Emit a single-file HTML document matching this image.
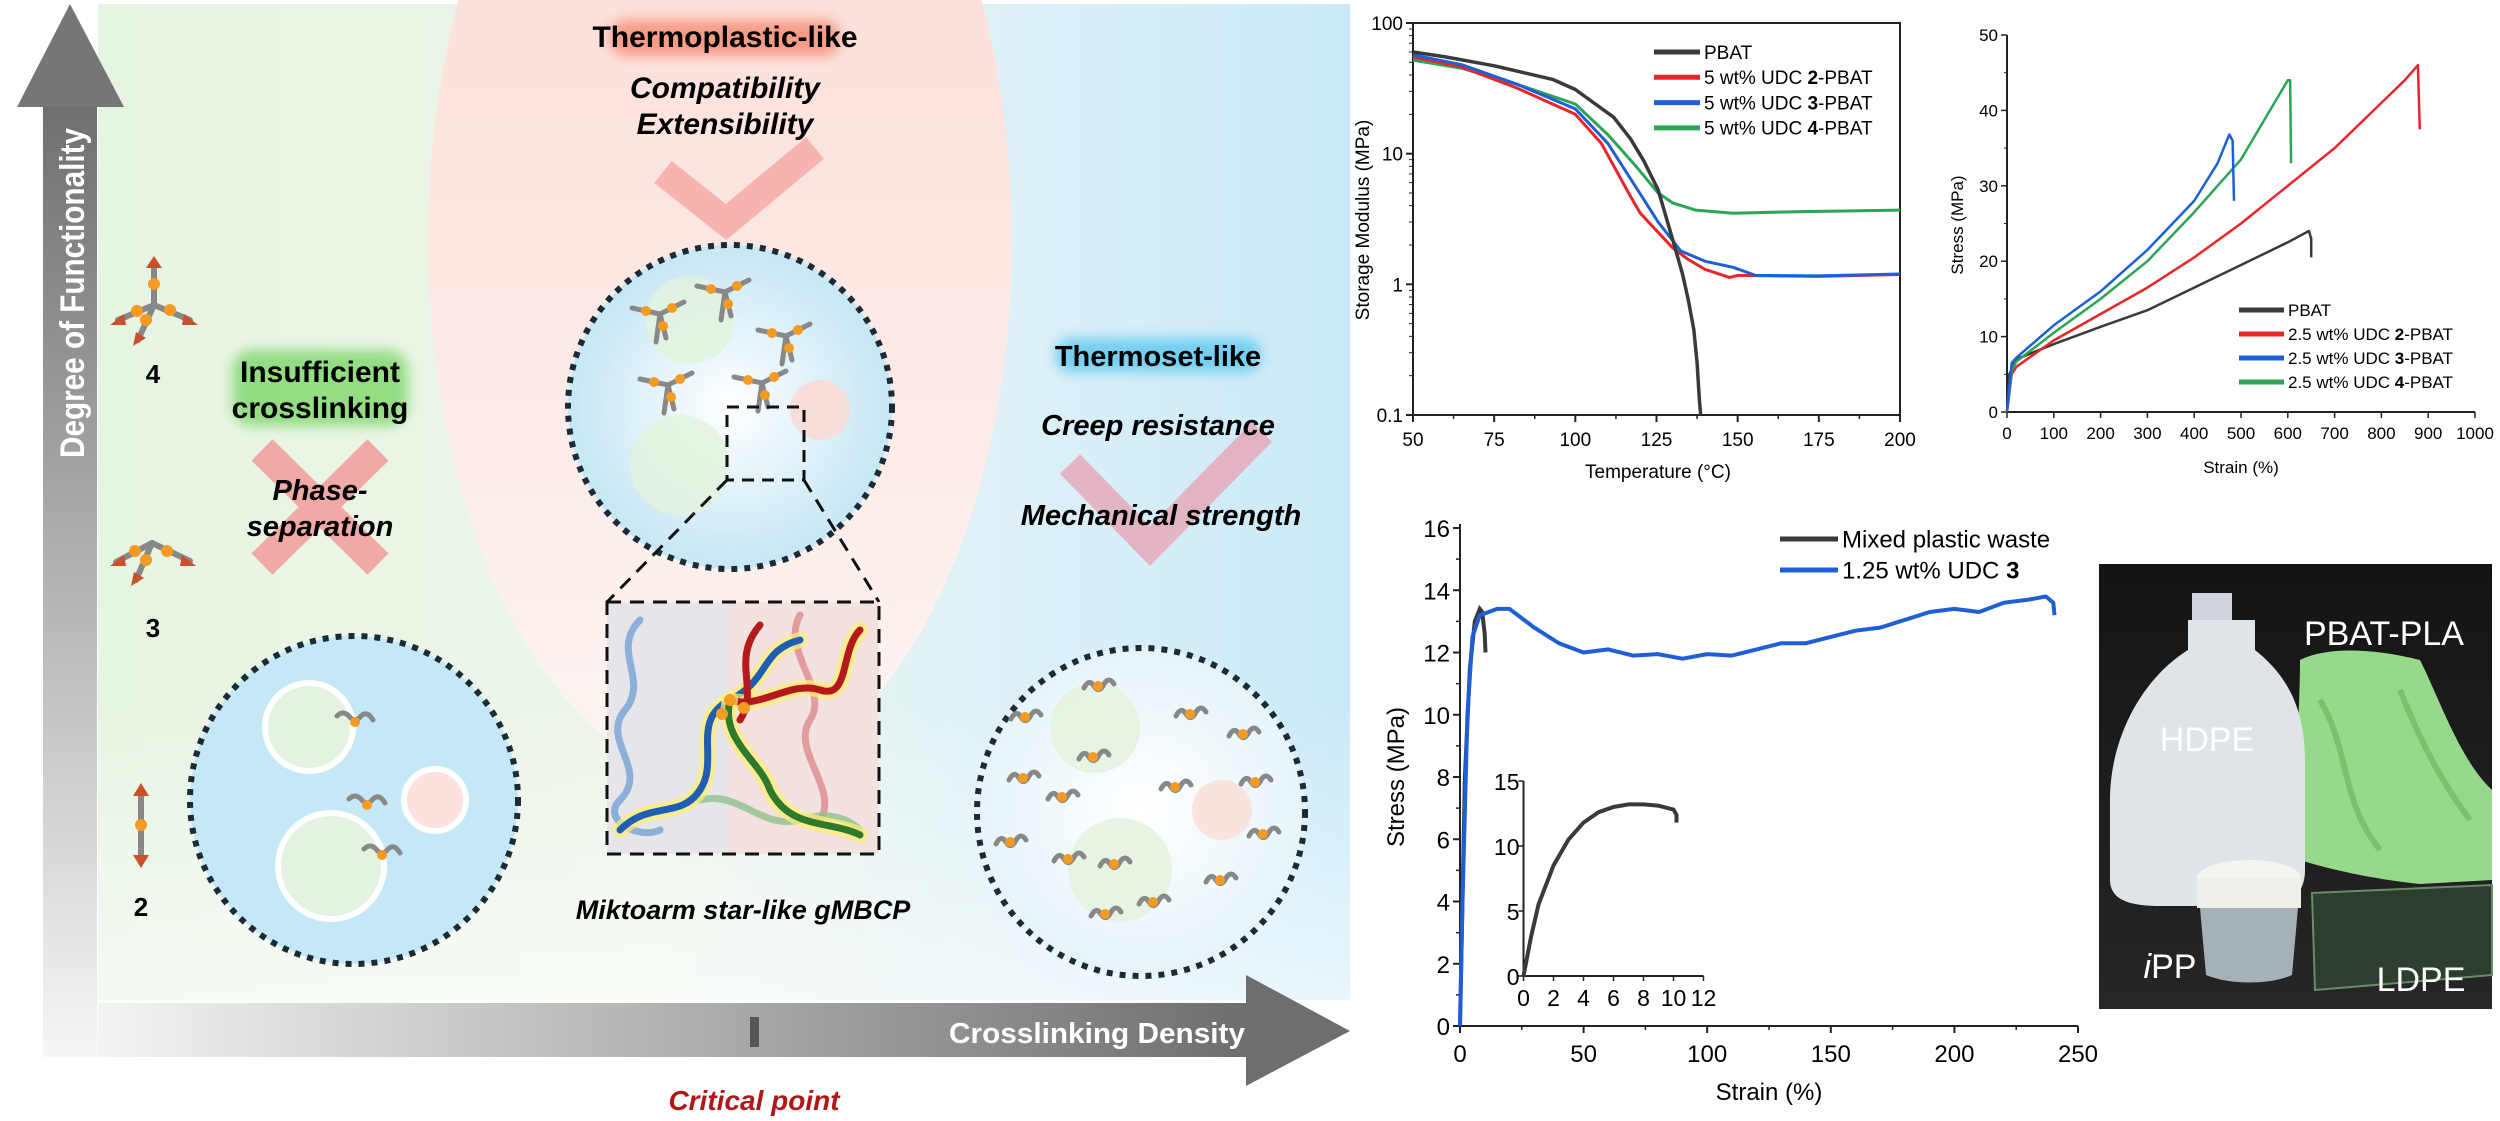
<!DOCTYPE html>
<html><head><meta charset="utf-8"><style>
html,body{margin:0;padding:0;background:#fff;}
svg{display:block;font-family:"Liberation Sans",sans-serif;}
</style></head><body>
<svg id="fig" width="2500" height="1121" viewBox="0 0 2500 1121" xmlns="http://www.w3.org/2000/svg">
<defs>
<linearGradient id="bgL" x1="0" x2="1" y1="0" y2="0"><stop offset="0" stop-color="#e6f4e2"/><stop offset="0.45" stop-color="#eef6ea"/><stop offset="0.75" stop-color="#dcf0f8"/><stop offset="1" stop-color="#c9e9f7"/></linearGradient>
<linearGradient id="bgB" x1="0" x2="0" y1="0" y2="1"><stop offset="0" stop-color="#ffffff" stop-opacity="0"/><stop offset="1" stop-color="#ffffff" stop-opacity="0.6"/></linearGradient>
<linearGradient id="pinkG" x1="0" x2="0" y1="0" y2="1"><stop offset="0" stop-color="#fbd9d3"/><stop offset="0.6" stop-color="#fce9e5"/><stop offset="1" stop-color="#fdf6f3"/></linearGradient>
<linearGradient id="vArrow" x1="0" x2="0" y1="0" y2="1"><stop offset="0" stop-color="#707070"/><stop offset="1" stop-color="#f6f6f6"/></linearGradient>
<linearGradient id="hArrow" x1="0" x2="1" y1="0" y2="0"><stop offset="0" stop-color="#f4f4f4"/><stop offset="1" stop-color="#6e6e6e"/></linearGradient>
<radialGradient id="midC" cx="0.5" cy="0.5" r="0.5"><stop offset="0" stop-color="#ffffff"/><stop offset="1" stop-color="#c6e7f5"/></radialGradient>
<radialGradient id="rightC" cx="0.5" cy="0.5" r="0.5"><stop offset="0" stop-color="#ffffff"/><stop offset="1" stop-color="#e6f4fa"/></radialGradient>
<linearGradient id="photoBg" x1="0" x2="0" y1="0" y2="1"><stop offset="0" stop-color="#141414"/><stop offset="1" stop-color="#262626"/></linearGradient>
<filter id="blur6" x="-30%" y="-60%" width="160%" height="220%"><feGaussianBlur stdDeviation="6"/></filter>
<filter id="blur3" x="-30%" y="-30%" width="160%" height="160%"><feGaussianBlur stdDeviation="3"/></filter>
</defs>

<g>
<rect x="98" y="4" width="1252" height="996" fill="url(#bgL)"/>
<ellipse cx="720" cy="240" rx="292" ry="540" fill="url(#pinkG)"/>
<rect x="98" y="700" width="1252" height="300" fill="url(#bgB)"/>

<g>
<polygon points="43,107 97,107 97,1057 43,1057" fill="url(#vArrow)"/>
<polygon points="17,107 124,107 70,4" fill="#767676"/>
<text transform="translate(84,293) rotate(-90)" text-anchor="middle" font-size="34" font-weight="bold" fill="#fff" textLength="330" lengthAdjust="spacingAndGlyphs">Degree of Functionality</text>
</g>
<g>
<polygon points="98,1003 1246,1003 1246,1057 98,1057" fill="url(#hArrow)"/>
<polygon points="1246,975 1246,1086 1350,1031" fill="#6e6e6e"/>
<text x="1097" y="1043" text-anchor="middle" font-size="29" font-weight="bold" fill="#fff" textLength="296" lengthAdjust="spacingAndGlyphs">Crosslinking Density</text>
<rect x="750" y="1017" width="9" height="30" fill="#555"/>
</g>
<text x="754" y="1110" text-anchor="middle" font-size="28" font-weight="bold" font-style="italic" fill="#b01818">Critical point</text>

<g stroke-linecap="round">
<g stroke="#888" stroke-width="6"><line x1="154" y1="305" x2="154" y2="262"/><line x1="154" y1="305" x2="118" y2="320"/><line x1="154" y1="305" x2="190" y2="320"/><line x1="154" y1="305" x2="138" y2="340"/></g>
<polygon points="154,256 146,268 162,268" fill="#c8502a"/><polygon points="110,325 124,314 126,325" fill="#c8502a"/><polygon points="198,325 184,314 182,325" fill="#c8502a"/><polygon points="133,346 136,332 146,338" fill="#c8502a"/>
<circle cx="154" cy="284" r="6" fill="#f59a23"/><circle cx="137" cy="311" r="6" fill="#f59a23"/><circle cx="170" cy="310" r="6" fill="#f59a23"/><circle cx="146" cy="320" r="6" fill="#f59a23"/>
</g>
<text x="153" y="383" text-anchor="middle" font-size="26" font-weight="bold">4</text>
<g stroke-linecap="round">
<g stroke="#888" stroke-width="6"><line x1="152" y1="543" x2="116" y2="562"/><line x1="152" y1="543" x2="190" y2="561"/><line x1="152" y1="543" x2="136" y2="580"/></g>
<polygon points="110,566 124,555 126,566" fill="#c8502a"/><polygon points="196,566 182,555 180,566" fill="#c8502a"/><polygon points="131,586 134,572 144,578" fill="#c8502a"/>
<circle cx="135" cy="551" r="6" fill="#f59a23"/><circle cx="167" cy="551" r="6" fill="#f59a23"/><circle cx="146" cy="560" r="6" fill="#f59a23"/>
</g>
<text x="153" y="637" text-anchor="middle" font-size="26" font-weight="bold">3</text>
<g>
<line x1="141" y1="795" x2="141" y2="858" stroke="#888" stroke-width="6"/>
<polygon points="141,783 133,796 149,796" fill="#c8502a"/><polygon points="141,868 133,855 149,855" fill="#c8502a"/>
<circle cx="141" cy="825" r="6" fill="#f59a23"/>
</g>
<text x="141" y="916" text-anchor="middle" font-size="26" font-weight="bold">2</text>

<rect x="232" y="350" width="176" height="76" rx="20" fill="#6fd35a" opacity="0.7" filter="url(#blur6)"/>
<text x="320" y="382" text-anchor="middle" font-size="30" font-weight="bold"><tspan x="320">Insufficient</tspan><tspan x="320" dy="36">crosslinking</tspan></text>
<g stroke="#f0a9a4" stroke-width="30"><line x1="262" y1="450" x2="378" y2="564"/><line x1="378" y1="450" x2="262" y2="564"/></g>
<text x="320" y="500" text-anchor="middle" font-size="29" font-weight="bold" font-style="italic"><tspan x="320">Phase-</tspan><tspan x="320" dy="36">separation</tspan></text>

<g>
<circle cx="354" cy="800" r="164" fill="#c4e8f6" stroke="#1c2a38" stroke-width="6" stroke-dasharray="6,7"/>
<circle cx="309" cy="727" r="44" fill="#e4f3e1" stroke="#fff" stroke-width="6"/>
<circle cx="331" cy="866" r="53" fill="#e4f3e1" stroke="#fff" stroke-width="6"/>
<circle cx="435" cy="800" r="31" fill="#fbe2de" stroke="#fff" stroke-width="6"/>
</g>

<rect x="610" y="20" width="230" height="36" rx="16" fill="#f58a70" opacity="0.8" filter="url(#blur6)"/>
<text x="725" y="47" text-anchor="middle" font-size="30" font-weight="bold">Thermoplastic-like</text>
<text x="725" y="98" text-anchor="middle" font-size="30" font-weight="bold" font-style="italic">Compatibility</text>
<text x="725" y="134" text-anchor="middle" font-size="30" font-weight="bold" font-style="italic">Extensibility</text>
<polyline points="663,172 726,222 815,148" fill="none" stroke="#f6aaa6" stroke-width="28" opacity="0.85"/>

<g>
<circle cx="730" cy="407" r="162" fill="url(#midC)" stroke="#1c2a38" stroke-width="6" stroke-dasharray="6,7"/>
<circle cx="690" cy="320" r="44" fill="#e4f2dc" opacity="0.8"/>
<circle cx="680" cy="465" r="50" fill="#e4f2dc" opacity="0.8"/>
<circle cx="820" cy="410" r="30" fill="#f9dcd6" opacity="0.9"/>
<g id="stars" stroke="#888" stroke-width="5" stroke-linecap="round" fill="none"></g>
<rect x="727" y="407" width="77" height="73" fill="none" stroke="#111" stroke-width="3" stroke-dasharray="12,8"/>
</g>
<line x1="727" y1="480" x2="607" y2="602" stroke="#111" stroke-width="3" stroke-dasharray="14,9"/>
<line x1="804" y1="480" x2="879" y2="602" stroke="#111" stroke-width="3" stroke-dasharray="14,9"/>
<g>
<rect x="607" y="602" width="272" height="252" fill="#f3e2e0" stroke="#111" stroke-width="3" stroke-dasharray="14,9"/>
<rect x="609" y="604" width="120" height="248" fill="#dde8f0" opacity="0.6"/>
<g fill="none" stroke-linecap="round">
<path d="M640,620 C610,650 650,680 625,710 C600,740 650,770 620,800 C600,820 640,840 660,830" stroke="#8db0d8" stroke-width="7"/>
<path d="M800,615 C780,650 830,690 810,720 C790,750 840,790 820,820" stroke="#d88080" stroke-width="7" opacity="0.7"/>
<path d="M700,800 C740,790 760,830 800,820 C830,810 850,820 860,830" stroke="#90c090" stroke-width="7" opacity="0.8"/>
<path d="M620,830 C650,800 680,820 700,790 C720,760 690,720 730,700 C770,680 760,650 800,640" stroke="#ffef70" stroke-width="16" opacity="0.7"/>
<path d="M620,830 C650,800 680,820 700,790 C720,760 690,720 730,700 C770,680 760,650 800,640" stroke="#1e5fb3" stroke-width="7"/>
<path d="M730,700 C760,710 790,680 820,690 C850,700 840,650 860,630" stroke="#ffef70" stroke-width="16" opacity="0.7"/>
<path d="M730,700 C760,710 790,680 820,690 C850,700 840,650 860,630" stroke="#b5191c" stroke-width="7"/>
<path d="M730,700 C720,740 760,760 770,790 C790,830 830,820 860,835" stroke="#ffef70" stroke-width="16" opacity="0.7"/>
<path d="M730,700 C720,740 760,760 770,790 C790,830 830,820 860,835" stroke="#2e7a2a" stroke-width="7"/>
<path d="M760,625 C730,660 760,690 740,720" stroke="#b5191c" stroke-width="7"/>
</g>
<circle cx="730" cy="700" r="6" fill="#f59a23"/><circle cx="722" cy="714" r="6" fill="#f59a23"/><circle cx="744" cy="708" r="6" fill="#f59a23"/>
</g>
<text x="743" y="919" text-anchor="middle" font-size="27" font-weight="bold" font-style="italic">Miktoarm star-like gMBCP</text>

<rect x="1055" y="338" width="206" height="34" rx="16" fill="#5cc8f0" opacity="0.8" filter="url(#blur6)"/>
<text x="1158" y="366" text-anchor="middle" font-size="29" font-weight="bold">Thermoset-like</text>
<polyline points="1070,464 1150,546 1262,432" fill="none" stroke="#e6a6b4" stroke-width="28" opacity="0.8"/>
<text x="1158" y="435" text-anchor="middle" font-size="29" font-weight="bold" font-style="italic">Creep resistance</text>
<text x="1161" y="525" text-anchor="middle" font-size="29" font-weight="bold" font-style="italic">Mechanical strength</text>
<g>
<circle cx="1141" cy="812" r="164" fill="url(#rightC)" stroke="#1c2a38" stroke-width="6" stroke-dasharray="6,7"/>
<circle cx="1095" cy="728" r="45" fill="#e5f3e0" opacity="0.9"/>
<circle cx="1120" cy="870" r="52" fill="#e5f3e0" opacity="0.9"/>
<circle cx="1222" cy="810" r="30" fill="#fbe0dc" opacity="0.9"/>
<g id="squig" fill="none" stroke="#888" stroke-width="5" stroke-linecap="round"></g>
</g>
</g>

<g id="dma"></g>
<g id="ten"></g>
<g id="mix"></g>

<g>
<rect x="2099" y="564" width="393" height="445" fill="url(#photoBg)"/>
<path d="M2300,660 C2330,645 2380,650 2420,660 C2440,700 2460,760 2492,790 L2492,880 L2420,884 C2380,880 2330,870 2300,860 C2292,800 2300,720 2300,660 Z" fill="#97d98a"/>
<path d="M2320,700 C2350,750 2340,800 2380,850 M2400,690 C2420,740 2440,780 2470,820" stroke="#7bc06d" stroke-width="6" fill="none"/>
<path d="M2312,893 L2492,885 L2492,975 L2315,990 Z" fill="#2d3d2e" stroke="#6a8a6a" stroke-width="2"/>
<rect x="2192" y="593" width="40" height="30" fill="#cfd5da"/>
<path d="M2188,620 L2188,650 C2140,680 2110,740 2110,800 L2110,880 C2110,900 2130,906 2160,906 L2260,906 C2295,906 2305,890 2305,870 L2305,760 C2305,700 2280,670 2255,650 L2255,620 Z" fill="#dfe4e8"/>
<ellipse cx="2249" cy="878" rx="52" ry="18" fill="#f4f4f0"/>
<rect x="2197" y="878" width="104" height="30" fill="#efefea"/>
<path d="M2200,908 L2298,908 L2292,975 C2270,985 2230,985 2206,975 Z" fill="#aeb8c0" opacity="0.95"/>
<text x="2207" y="751" text-anchor="middle" font-size="34" fill="#fff">HDPE</text>
<text x="2384" y="645" text-anchor="middle" font-size="34" fill="#fff">PBAT-PLA</text>
<text x="2170" y="978" text-anchor="middle" font-size="34" fill="#fff"><tspan font-style="italic">i</tspan>PP</text>
<text x="2421" y="991" text-anchor="middle" font-size="34" fill="#fff">LDPE</text>
</g>
</svg>
<script>
const dmaTicksX = [50, 75, 100, 125, 150, 175, 200];
const dmaTicksY = [0.1, 1, 10, 100];
const dmaTickLabelsY = ["0.1", "1", "10", "100"];
const dmaSeriesNames = ["PBAT", "5 wt% UDC 2-PBAT", "5 wt% UDC 3-PBAT", "5 wt% UDC 4-PBAT"];
const dmaPbatT = [50, 60, 75, 93, 100, 111.8, 117, 121, 125.5, 130, 133, 134.8, 136.5, 137.5, 138.2, 138.6];
const dmaPbatE = [60, 55, 47, 37, 31, 19, 13, 8.9, 5.3, 2.2, 1.2, 0.76, 0.45, 0.25, 0.13, 0.1];
const dmaU2T = [50, 65, 81.8, 100, 108, 116.4, 120, 125.5, 130, 134.8, 140, 147.5, 150, 175, 200];
const dmaU2E = [55, 46, 32, 20, 12, 5.0, 3.5, 2.5, 1.9, 1.55, 1.3, 1.13, 1.17, 1.15, 1.19];
const dmaU3T = [50, 65, 82, 100, 110, 121, 125.5, 132.5, 140, 148.6, 155.5, 175, 200];
const dmaU3E = [57, 48, 34, 22, 12, 4.5, 3.0, 1.8, 1.5, 1.35, 1.17, 1.16, 1.2];
const dmaU4T = [50, 65, 82, 100, 110, 118.7, 125.5, 130, 137, 148.6, 170, 200];
const dmaU4E = [52, 45, 34, 24, 14, 8, 5, 4.2, 3.7, 3.5, 3.6, 3.7];

const tenTicksX = [0,100,200,300,400,500,600,700,800,900,1000];
const tenTicksY = [0,10,20,30,40,50];
const tenSeriesNames = ["PBAT", "2.5 wt% UDC 2-PBAT", "2.5 wt% UDC 3-PBAT", "2.5 wt% UDC 4-PBAT"];
const tenPbatX = [0, 5, 20, 100, 200, 300, 400, 500, 600, 645, 650, 650];
const tenPbatY = [0, 5, 7, 9, 11.3, 13.5, 16.5, 19.5, 22.5, 24, 23, 20.5];
const tenU2X = [0, 10, 20, 100, 200, 300, 400, 500, 600, 700, 800, 850, 878, 882];
const tenU2Y = [0, 5, 6, 9.5, 13, 16.5, 20.5, 25, 30, 35, 41, 44, 46, 37.5];
const tenU3X = [0, 10, 20, 100, 200, 300, 400, 450, 475, 482, 485];
const tenU3Y = [0, 6.5, 7.2, 11.5, 16, 21.5, 28, 33, 36.8, 36, 28];
const tenU4X = [0, 10, 20, 100, 200, 300, 400, 500, 600, 605, 607];
const tenU4Y = [0, 5.5, 6.7, 10.5, 15, 20, 26.5, 33.5, 44, 44, 33];

const mixTicksX = [0, 50, 100, 150, 200, 250];
const mixTicksY = [0, 2, 4, 6, 8, 10, 12, 14, 16];
const mixSeriesNames = ["Mixed plastic waste", "1.25 wt% UDC 3"];
const mixWasteX = [0, 2, 4, 6, 8, 9, 10, 10.3];
const mixWasteY = [0, 8, 11.5, 13, 13.4, 13.3, 12.6, 12];
const mixUdcX = [0, 1, 3, 5, 8, 15, 20, 30, 40, 50, 60, 70, 80, 90, 100, 110, 120, 130, 140, 150, 160, 170, 180, 190, 200, 210, 220, 230, 237, 240, 240.5];
const mixUdcY = [0, 4, 10, 12.5, 13.2, 13.4, 13.4, 12.8, 12.3, 12.0, 12.1, 11.9, 11.95, 11.8, 11.95, 11.9, 12.1, 12.3, 12.3, 12.5, 12.7, 12.8, 13.05, 13.3, 13.4, 13.3, 13.6, 13.7, 13.8, 13.6, 13.2];
const insetTicksX = [0, 2, 4, 6, 8, 10, 12];
const insetTicksY = [0, 5, 10, 15];
const insetX = [0, 0.5, 1, 2, 3, 4, 5, 6, 7, 8, 9, 10, 10.2, 10.2];
const insetY = [0, 3, 5.5, 8.5, 10.5, 11.8, 12.6, 13.0, 13.2, 13.2, 13.1, 12.8, 12.4, 11.8];

const NS = "http://www.w3.org/2000/svg";
function mk(tag, attrs, parent){ const e=document.createElementNS(NS,tag); for(const k in attrs) e.setAttribute(k,attrs[k]); parent.appendChild(e); return e; }

const dma = document.getElementById('dma');
const dL=1413, dR=1900, dT=23, dB=415;
const dX = t => dL + (t-50)/150*(dR-dL);
const dY = v => dB - (Math.log10(v)+1)/3*(dB-dT);
let fr = mk('rect',{x:dL,y:dT,width:dR-dL,height:dB-dT,fill:'#fff',stroke:'#222','stroke-width':2},dma);


dmaTicksX.forEach(t=>{
  mk('line',{x1:dX(t),x2:dX(t),y1:dB,y2:dB+7,stroke:'#222','stroke-width':2},dma);
  const tx=mk('text',{x:dX(t),y:dB+31,'text-anchor':'middle','font-size':19},dma); tx.textContent=t;
  
  
});
for(let t=62.5;t<200;t+=25) mk('line',{x1:dX(t),x2:dX(t),y1:dB,y2:dB+4,stroke:'#222','stroke-width':1.5},dma);
dmaTicksY.forEach((v,i)=>{
  mk('line',{x1:dL-7,x2:dL,y1:dY(v),y2:dY(v),stroke:'#222','stroke-width':2},dma);
  const tx=mk('text',{x:dL-10,y:dY(v)+7,'text-anchor':'end','font-size':19},dma); tx.textContent=dmaTickLabelsY[i];
  
  
  if(i<3) for(let m=2;m<10;m++) mk('line',{x1:dL-4,x2:dL,y1:dY(v*m),y2:dY(v*m),stroke:'#222','stroke-width':1},dma);
});
let t1=mk('text',{x:1658,y:478,'text-anchor':'middle','font-size':19},dma); t1.textContent='Temperature (°C)';


let t2=mk('text',{transform:'translate(1369,220) rotate(-90)','text-anchor':'middle','font-size':19},dma); t2.textContent='Storage Modulus (MPa)';



function linePath(xs, ys, fx, fy){ return xs.map((x,i)=>(i?'L':'M')+fx(x).toFixed(1)+','+fy(ys[i]).toFixed(1)).join(' '); }
const dmaCols=['#3a3a3a','#e8262a','#1f5fd6','#2aa455'];
const dmaData=[[dmaPbatT,dmaPbatE],[dmaU2T,dmaU2E],[dmaU3T,dmaU3E],[dmaU4T,dmaU4E]];
[3,1,2,0].forEach(i=>{
  const p=mk('path',{d:linePath(dmaData[i][0],dmaData[i][1],dX,dY),fill:'none',stroke:dmaCols[i],'stroke-width':i==0?3.5:3,'stroke-linejoin':'round'},dma);
  
  
});
function legendEntry(g, x1, x2, y, col, name, fs, nm){
  mk('line',{x1:x1,x2:x2,y1:y,y2:y,stroke:col,'stroke-width':5},g);
  const tx=mk('text',{x:x2+4,y:y+fs*0.36,'font-size':fs},g);
  const m=name.match(/^(.*UDC )(\d)(.*)$/);
  if(m){ tx.appendChild(document.createTextNode(m[1])); const b=mk('tspan',{'font-weight':'bold'},tx); b.textContent=m[2]; tx.appendChild(document.createTextNode(m[3])); }
  else tx.textContent=name;
  
  
}
dmaSeriesNames.forEach((n,i)=>legendEntry(dma,1654,1700,52+25.3*i,dmaCols[i],n,19,'dma-legend-entry'));

const ten=document.getElementById('ten');
const tL=2007,tR=2475,tT=35,tB=412;
const tX=x=>tL+x/1000*(tR-tL), tY=y=>tB-y/50*(tB-tT);
mk('line',{x1:tL,x2:tL,y1:tT,y2:tB,stroke:'#222','stroke-width':2},ten);
mk('line',{x1:tL,x2:tR,y1:tB,y2:tB,stroke:'#222','stroke-width':2},ten);
tenTicksX.forEach(v=>{
  mk('line',{x1:tX(v),x2:tX(v),y1:tB,y2:tB+6,stroke:'#222','stroke-width':1.5},ten);
  const tx=mk('text',{x:tX(v),y:tB+27,'text-anchor':'middle','font-size':17},ten); tx.textContent=v;
  
  
});
tenTicksY.forEach(v=>{
  mk('line',{x1:tL-6,x2:tL,y1:tY(v),y2:tY(v),stroke:'#222','stroke-width':1.5},ten);
  mk('line',{x1:tL-3,x2:tL,y1:tY(v+5),y2:tY(v+5),stroke:'#222','stroke-width':1},ten);
  const tx=mk('text',{x:tL-9,y:tY(v)+6,'text-anchor':'end','font-size':17},ten); tx.textContent=v;
  
  
});
let t3=mk('text',{x:2241,y:473,'text-anchor':'middle','font-size':17},ten); t3.textContent='Strain (%)';


let t4=mk('text',{transform:'translate(1963,225) rotate(-90)','text-anchor':'middle','font-size':17},ten); t4.textContent='Stress (MPa)';


const tenData=[[tenPbatX,tenPbatY],[tenU2X,tenU2Y],[tenU3X,tenU3Y],[tenU4X,tenU4Y]];
[0,1,3,2].forEach(i=>{
  const p=mk('path',{d:linePath(tenData[i][0],tenData[i][1],tX,tY),fill:'none',stroke:dmaCols[i],'stroke-width':2.5,'stroke-linejoin':'round'},ten);
  
  
});
tenSeriesNames.forEach((n,i)=>legendEntry(ten,2239,2284,310+24*i,dmaCols[i],n,17,'tensile-legend-entry'));

const mix=document.getElementById('mix');
const mL=1460,mR=2078,mT=528,mB=1026;
const mX=x=>mL+x/250*(mR-mL), mY=y=>mB-y/16*(mB-mT);
mk('line',{x1:mL,x2:mL,y1:mT-4,y2:mB,stroke:'#222','stroke-width':2},mix);
mk('line',{x1:mL,x2:mR,y1:mB,y2:mB,stroke:'#222','stroke-width':2},mix);
mixTicksX.forEach(v=>{
  mk('line',{x1:mX(v),x2:mX(v),y1:mB,y2:mB+7,stroke:'#222','stroke-width':2},mix);
  if(v<250) mk('line',{x1:mX(v+25),x2:mX(v+25),y1:mB,y2:mB+4,stroke:'#222','stroke-width':1.5},mix);
  const tx=mk('text',{x:mX(v),y:mB+36,'text-anchor':'middle','font-size':24},mix); tx.textContent=v;
  
  
});
mixTicksY.forEach(v=>{
  mk('line',{x1:mL-7,x2:mL,y1:mY(v),y2:mY(v),stroke:'#222','stroke-width':2},mix);
  if(v<16) mk('line',{x1:mL-4,x2:mL,y1:mY(v+1),y2:mY(v+1),stroke:'#222','stroke-width':1.5},mix);
  const tx=mk('text',{x:mL-10,y:mY(v)+9,'text-anchor':'end','font-size':24},mix); tx.textContent=v;
  
  
});
let t5=mk('text',{x:1769,y:1100,'text-anchor':'middle','font-size':24},mix); t5.textContent='Strain (%)';


let t6=mk('text',{transform:'translate(1404,777) rotate(-90)','text-anchor':'middle','font-size':24},mix); t6.textContent='Stress (MPa)';


const mixCols=['#3a3a3a','#1f5fd6'];
let pw=mk('path',{d:linePath(mixWasteX,mixWasteY,mX,mY),fill:'none',stroke:mixCols[0],'stroke-width':4},mix);


let pu=mk('path',{d:linePath(mixUdcX,mixUdcY,mX,mY),fill:'none',stroke:mixCols[1],'stroke-width':4,'stroke-linejoin':'round'},mix);


mixSeriesNames.forEach((n,i)=>legendEntry(mix,1780,1838,539+31*i,mixCols[i],n,24,'mixed-legend-entry'));
const iL=1523.5,iR=1703.5,iT=781,iB=976;
const iX=x=>iL+x/12*(iR-iL), iY=y=>iB-y/15*(iB-iT);
mk('line',{x1:iL,x2:iL,y1:iT,y2:iB,stroke:'#222','stroke-width':2},mix);
mk('line',{x1:iL,x2:iR,y1:iB,y2:iB,stroke:'#222','stroke-width':2},mix);
insetTicksX.forEach(v=>{
  mk('line',{x1:iX(v),x2:iX(v),y1:iB,y2:iB+5,stroke:'#222','stroke-width':1.5},mix);
  const tx=mk('text',{x:iX(v),y:iB+30,'text-anchor':'middle','font-size':23},mix); tx.textContent=v;
  
  
});
insetTicksY.forEach(v=>{
  mk('line',{x1:iL-5,x2:iL,y1:iY(v),y2:iY(v),stroke:'#222','stroke-width':1.5},mix);
  const tx=mk('text',{x:iL-4,y:iY(v)+9,'text-anchor':'end','font-size':23},mix); tx.textContent=v;
  
  
});
let pi=mk('path',{d:linePath(insetX,insetY,iX,iY),fill:'none',stroke:'#3a3a3a','stroke-width':4},mix);



const stars=document.getElementById('stars');
const starPos=[[725,192],[660,214],[786,236],[668,285],[762,283]];
starPos.forEach(([x,y])=>{
  const cy=y+100;
  const g=mk('g',{},stars);
  [[-28,-6],[24,-12],[6,24],[-4,28]].forEach(([dx,dy])=>{ mk('line',{x1:x,y1:cy,x2:x+dx,y2:cy+dy},g); });
  [[-14,-3],[12,-6],[3,12]].forEach(([dx,dy])=>{ mk('circle',{cx:x+dx,cy:cy+dy,r:5,fill:'#f59a23',stroke:'none'},g); });
});
const sq=document.getElementById('squig');
const sqPos=[[1025,715],[1098,684],[1093,755],[1190,712],[1243,732],[1023,776],[1062,795],[1175,785],[1255,780],[1010,840],[1068,857],[1114,862],[1153,900],[1220,878],[1105,912],[1263,832]];
sqPos.forEach(([x,y])=>{
  mk('path',{d:`M${x-14},${y+4} q5,-10 10,-2 q5,8 10,-2 q5,-8 10,0`},sq);
  mk('circle',{cx:x,cy:y+2,r:5,fill:'#f59a23',stroke:'none'},sq);
});
[[355,722],[367,805],[382,855]].forEach(([x,y])=>{
  mk('path',{d:`M${x-18},${y-6} q6,-6 12,0 q6,8 12,0 q6,-6 12,4`},sq);
  mk('circle',{cx:x,cy:y,r:5,fill:'#f59a23',stroke:'none'},sq);
});
</script>
</body></html>
